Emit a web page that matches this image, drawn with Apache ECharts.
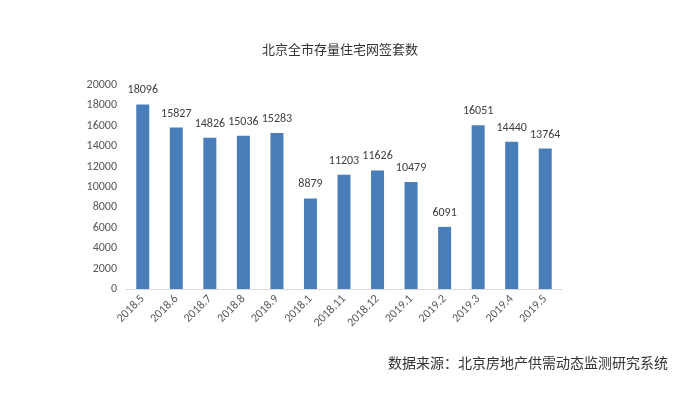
<!DOCTYPE html>
<html><head><meta charset="utf-8">
<script src="https://cdn.jsdelivr.net/npm/echarts@6/dist/echarts.min.js"></script>
<style>html,body{margin:0;padding:0;background:#fff}#c{width:700px;height:396px}</style>
</head><body><div id="c"></div>
<script>
const categories = ['2018.5','2018.6','2018.7','2018.8','2018.9','2018.1','2018.11','2018.12','2019.1','2019.2','2019.3','2019.4','2019.5'];
const values = [18096,15827,14826,15036,15283,8879,11203,11626,10479,6091,16051,14440,13764];
const chart = echarts.init(document.getElementById('c'));
const font = '"Microsoft YaHei","Noto Sans CJK SC",sans-serif';
const nfont = 'Calibri,Carlito,"Open Sans","Liberation Sans",sans-serif';
chart.setOption({
  animation:false,
  title:[{text:'北京全市存量住宅网签套数',left:335,top:38,textAlign:'center',textStyle:{fontSize:13,fontWeight:'normal',color:'#333',fontFamily:font}},
         {text:'数据来源：北京房地产供需动态监测研究系统',right:27,top:351,textStyle:{fontSize:14,fontWeight:'normal',color:'#333',fontFamily:font}}],
  grid:{left:126,right:138,top:85,bottom:107},
  xAxis:{type:'category',data:categories,axisLine:{lineStyle:{color:'#d9d9d9'}},axisTick:{show:false},
    axisLabel:{rotate:45,color:'#595959',fontSize:12,fontFamily:nfont,margin:8}},
  yAxis:{type:'value',min:0,max:20000,interval:2000,splitLine:{show:false},axisLine:{show:false},axisTick:{show:false},
    axisLabel:{color:'#595959',fontSize:12,margin:9,fontFamily:nfont,formatter:v=>String(v)}},
  series:[{type:'bar',data:values,barWidth:13,itemStyle:{color:'#4a7ebb'},
    label:{show:true,position:'top',distance:8,color:'#404040',fontSize:12,fontFamily:nfont}}]
});
</script></body></html>
